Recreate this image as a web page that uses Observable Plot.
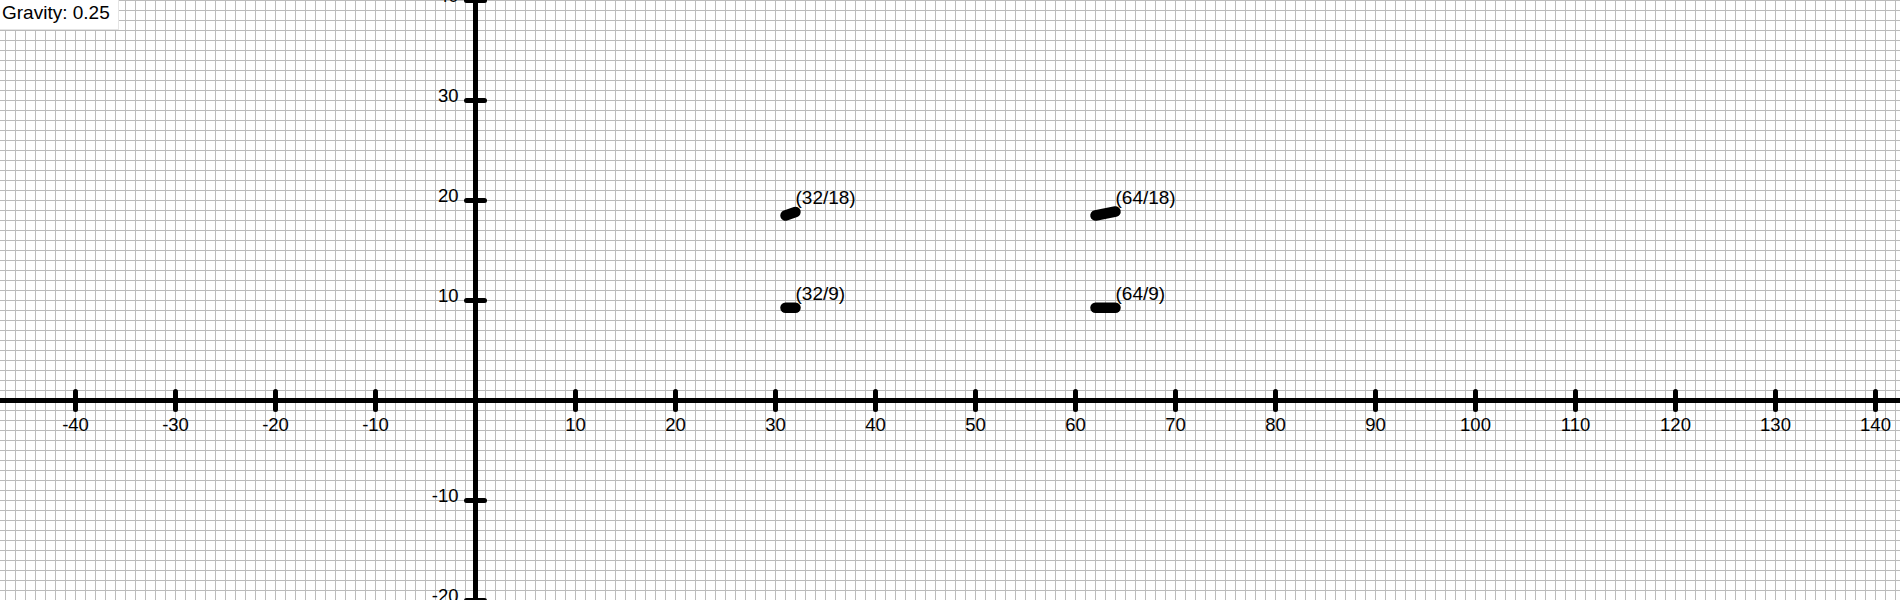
<!DOCTYPE html>
<html>
<head>
<meta charset="utf-8">
<script src="https://cdn.jsdelivr.net/npm/d3@7"></script>
<script src="https://cdn.jsdelivr.net/npm/@observablehq/plot@0.6"></script>
<style>
  html, body { margin: 0; padding: 0; background: white; overflow: hidden; }
  #wrap { position: relative; width: 1900px; height: 600px; }
  #gravity {
    position: absolute; top: 0; left: 0;
    background: white;
    font-family: "Liberation Sans", Arial, sans-serif;
    font-size: 19px; line-height: 21px;
    padding: 2px 8px 6px 2px;
    border-right: 1px solid #e4e4e4; border-bottom: 1px solid #e4e4e4;
    color: black;
  }
</style>
</head>
<body>
<div id="wrap"><div id="gravity">Gravity: 0.25</div></div>
<script>
// ---- data ----
const xDomain = [-47.5, 142.5];
const yDomain = [-20, 40];
const xTickValues = [-40, -30, -20, -10, 10, 20, 30, 40, 50, 60, 70, 80, 90, 100, 110, 120, 130, 140];
const yTickValues = [-20, -10, 10, 20, 30, 40];
const gridStep = 1;

// moving objects: trail start (x1,y1) -> current (x2,y2)
const segX1 = [31, 31, 62, 62];
const segY1 = [18.5, 9.27, 18.5, 9.27];
const segX2 = [32, 32, 64, 64];
const segY2 = [18.85, 9.27, 18.9, 9.27];
const segLabels = ["(32/18)", "(32/9)", "(64/18)", "(64/9)"];

const segments = segLabels.map((label, i) => ({
  x1: segX1[i], y1: segY1[i], x2: segX2[i], y2: segY2[i], label
}));

const gridX = d3.range(Math.ceil(xDomain[0]), xDomain[1] + gridStep, gridStep);
const gridY = d3.range(Math.ceil(yDomain[0]), yDomain[1] + gridStep, gridStep);

const vTick = { draw(ctx) { ctx.moveTo(0, -9); ctx.lineTo(0, 9); } };
const hTick = { draw(ctx) { ctx.moveTo(-9, 0); ctx.lineTo(9, 0); } };

const font = "'Liberation Sans', Arial, sans-serif";
const labelSize = 18.5;

const chart = Plot.plot({
  width: 1900,
  height: 600,
  margin: 0,
  x: { domain: xDomain, axis: null },
  y: { domain: yDomain, axis: null },
  style: { fontFamily: font, background: "white", color: "black" },
  marks: [
    Plot.ruleX(gridX, { stroke: "#bbb", strokeWidth: 1 }),
    Plot.ruleY(gridY, { stroke: "#bbb", strokeWidth: 1 }),
    Plot.ruleX([0], { stroke: "black", strokeWidth: 5 }),
    Plot.ruleY([0], { stroke: "black", strokeWidth: 5 }),
    Plot.dot(xTickValues, { x: d => d, y: () => 0, symbol: vTick, fill: "none", stroke: "black", strokeWidth: 5, strokeLinecap: "round" }),
    Plot.dot(yTickValues, { x: () => 0, y: d => d, symbol: hTick, fill: "none", stroke: "black", strokeWidth: 5, strokeLinecap: "round" }),
    Plot.text(xTickValues, { x: d => d, y: () => 0, text: d => String(d), dy: 30, lineAnchor: "bottom", textAnchor: "middle", fontSize: labelSize, fill: "black" }),
    Plot.text(yTickValues, { x: () => 0, y: d => d, text: d => String(d), dx: -17, dy: 1, lineAnchor: "bottom", textAnchor: "end", fontSize: labelSize, fill: "black" }),
    Plot.link(segments, { x1: "x1", y1: "y1", x2: "x2", y2: "y2", stroke: "black", strokeWidth: 10.5, strokeLinecap: "round" }),
    Plot.text(segments, { x: "x2", y: "y2", text: "label", dx: 0, dy: -8, lineAnchor: "bottom", textAnchor: "start", fontSize: 19, fill: "black" })
  ]
});
document.getElementById("wrap").prepend(chart);
chart.style.display = "block";
</script>
</body>
</html>
